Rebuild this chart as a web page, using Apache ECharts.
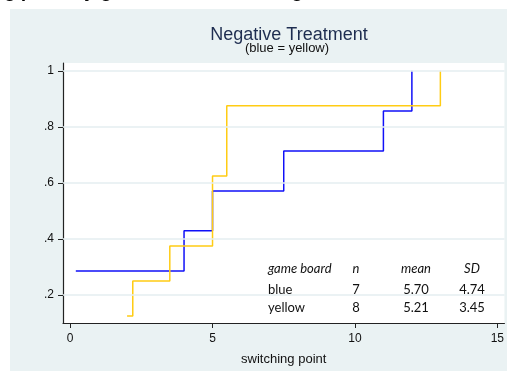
<!DOCTYPE html>
<html>
<head>
<meta charset="utf-8">
<script src="https://cdn.jsdelivr.net/npm/echarts@6/dist/echarts.min.js"></script>
<style>
  html, body { margin: 0; padding: 0; background: #fff; }
  #main { width: 507px; height: 371px; }
</style>
</head>
<body>
<div id="main"></div>
<script>
var chartDom = document.getElementById('main');
var myChart = echarts.init(chartDom);

const blueX = [0.2, 4, 5, 7.5, 11, 12];
const blueY = [0.286, 0.429, 0.571, 0.714, 0.857, 1];
const yellowX = [2, 2.2, 3.5, 5, 5.5, 13];
const yellowY = [0.125, 0.25, 0.375, 0.625, 0.875, 1];

const xTicks = [0, 5, 10, 15];
const yTicks = [0.2, 0.4, 0.6, 0.8, 1];

// summary table
const tableHead = ['game board', 'n', 'mean', 'SD'];
const tableRows = [
    ['blue', '7', '5.70', '4.74'],
    ['yellow', '8', '5.21', '3.45']
];

const panel = '#eaf2f3';
const sans = '"Liberation Sans", Arial, sans-serif';

function pairs(xs, ys) {
    return xs.map(function (x, i) { return [x, ys[i]]; });
}

// table texts
const colX = [268, 356, 416, 472];
const colAlign = ['left', 'center', 'center', 'center'];
const rowY = [269, 290, 308];
let tableText = [];
[tableHead].concat(tableRows).forEach(function (row, r) {
    row.forEach(function (txt, c) {
        tableText.push({
            type: 'text',
            x: colX[c],
            y: rowY[r],
            z: 10,
            style: {
                text: txt,
                fill: '#111',
                font: (r === 0 ? 'italic ' : '') + '13px Lato, "Open Sans", sans-serif',
                textAlign: colAlign[c],
                textVerticalAlign: 'middle'
            }
        });
    });
});

let option = {
    backgroundColor: panel,
    animation: false,
    title: [
        {
            text: 'Negative Treatment',
            left: 284,
            top: 21,
            textAlign: 'center',
            textStyle: { color: '#1e2d50', fontSize: 18, fontWeight: 'normal', fontFamily: sans }
        },
        {
            text: '(blue = yellow)',
            left: 282,
            top: 37,
            textAlign: 'center',
            textStyle: { color: '#111', fontSize: 13, fontWeight: 'normal', fontFamily: sans }
        }
    ],
    grid: {
        left: 63,
        right: 2,
        top: 63,
        bottom: 44,
        show: true,
        backgroundColor: '#fff',
        borderWidth: 0
    },
    xAxis: {
        type: 'value',
        min: -0.25,
        max: 15.25,
        name: 'switching point',
        nameLocation: 'middle',
        nameGap: 30,
        nameTextStyle: { color: '#111', fontSize: 13, fontFamily: sans },
        axisLine: { show: true, onZero: false, lineStyle: { color: '#222', width: 1.2 } },
        axisTick: { show: true, length: 5, customValues: xTicks, lineStyle: { color: '#222' } },
        axisLabel: {
            customValues: xTicks,
            color: '#111',
            fontSize: 12,
            margin: 10,
            fontFamily: sans
        },
        splitLine: { show: false }
    },
    yAxis: {
        type: 'value',
        min: 0.1,
        max: 1.028,
        axisLine: { show: true, onZero: false, lineStyle: { color: '#222', width: 1.2 } },
        axisTick: { show: true, length: 5, customValues: yTicks, lineStyle: { color: '#222' } },
        axisLabel: {
            customValues: yTicks,
            color: '#111',
            fontSize: 12,
            margin: 9,
            fontFamily: sans,
            formatter: function (v) {
                return v >= 1 ? '1' : String(+v.toFixed(1)).replace(/^0/, '');
            }
        },
        splitLine: { show: false }
    },
    series: [
        {
            name: 'grid',
            type: 'line',
            data: [],
            silent: true,
            markLine: {
                silent: true,
                symbol: 'none',
                label: { show: false },
                lineStyle: { color: '#e4eef0', width: 1.5, type: 'solid' },
                data: yTicks.map(function (v) { return { yAxis: v }; })
            }
        },
        {
            name: 'blue',
            type: 'line',
            step: 'end',
            data: pairs(blueX, blueY),
            showSymbol: false,
            lineStyle: { color: '#1010f8', width: 1.5 },
            itemStyle: { color: '#1010f8' }
        },
        {
            name: 'yellow',
            type: 'line',
            step: 'end',
            data: pairs(yellowX, yellowY),
            showSymbol: false,
            lineStyle: { color: '#ffcc14', width: 1.5 },
            itemStyle: { color: '#ffcc14' }
        }
    ],
    graphic: [
        { type: 'rect', shape: { x: 0, y: 0, width: 507, height: 9 }, style: { fill: '#fff' }, z: 5 },
        { type: 'rect', shape: { x: 0, y: 0, width: 10, height: 371 }, style: { fill: '#fff' }, z: 5 },
        {
            type: 'text',
            x: -6,
            y: -18,
            z: 6,
            style: {
                text: 'ng point by game board in the negative treatment, cumulative share switching',
                fill: '#000',
                font: 'italic bold 19px "Liberation Sans", Arial, sans-serif',
                textVerticalAlign: 'top'
            }
        }
    ].concat(tableText)
};

option && myChart.setOption(option);
</script>
</body>
</html>
